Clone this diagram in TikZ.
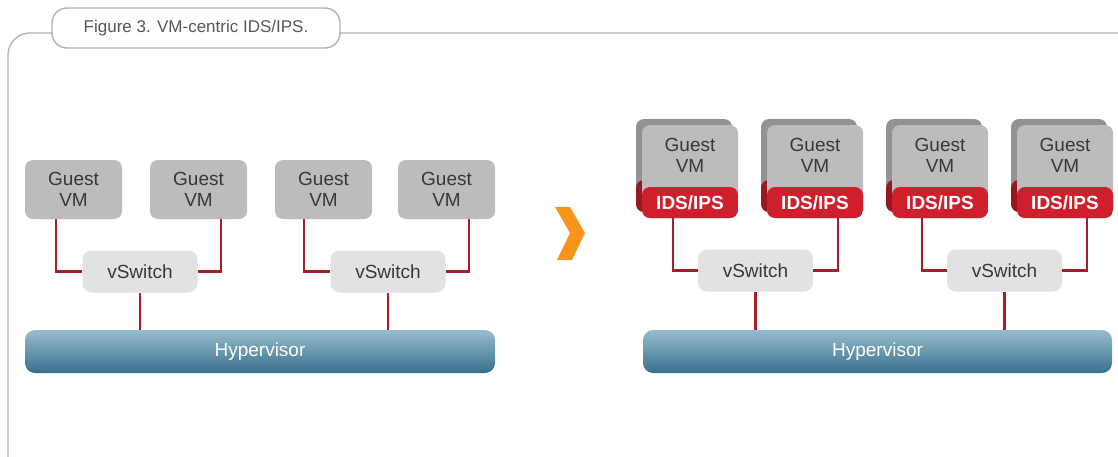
\documentclass[tikz,border=0pt]{standalone}
\usepackage{fontspec}
\setmainfont{Liberation Sans}
\usetikzlibrary{positioning}
\definecolor{framegrey}{RGB}{178,178,180}
\definecolor{titlegrey}{RGB}{88,88,90}
\definecolor{vmgrey}{RGB}{188,188,190}
\definecolor{shadegrey}{RGB}{146,146,149}
\definecolor{switchgrey}{RGB}{226,226,228}
\definecolor{wirered}{RGB}{163,32,40}
\definecolor{idsred}{RGB}{207,30,44}
\definecolor{idsdark}{RGB}{150,24,32}
\definecolor{hyptop}{RGB}{152,188,205}
\definecolor{hypbot}{RGB}{56,112,140}
\definecolor{chevron}{RGB}{247,148,29}

\begin{document}
\begin{tikzpicture}[x=1pt,y=-1pt,
  every node/.style={font=\fontsize{19}{21}\selectfont,text=black!78,inner sep=0pt},
  tab/.style={draw=framegrey,line width=1.4pt,fill=white,rounded corners=15pt,
              minimum width=288pt,minimum height=40pt,font=\fontsize{17}{19}\selectfont,text=titlegrey},
  guest/.style={fill=vmgrey,rounded corners=8pt,minimum width=97pt,minimum height=59pt,align=center},
  backvm/.style={fill=shadegrey,rounded corners=8pt,minimum width=96pt,minimum height=93pt,
              path picture={\fill[idsdark] (path picture bounding box.south west)
                rectangle ([yshift=32pt]path picture bounding box.south east);}},
  frontvm/.style={fill=vmgrey,rounded corners=8pt,minimum width=96pt,minimum height=93pt,
              path picture={\fill[idsred] (path picture bounding box.south west)
                rectangle ([yshift=31pt]path picture bounding box.south east);}},
  vmtext/.style={align=center},
  idstext/.style={text=white,font=\fontsize{19}{21}\selectfont\bfseries},
  switch/.style={fill=switchgrey,rounded corners=9pt,minimum width=115pt,minimum height=42pt},
  hyper/.style={top color=hyptop,bottom color=hypbot,rounded corners=10pt,
              minimum height=43pt,text=white},
  wire/.style={draw=wirered,line width=2.6pt}]

\useasboundingbox (0,0) rectangle (1118,456);

% outer frame, runs off the page on the right and below
\draw[framegrey,line width=1.4pt,rounded corners=22pt] (1130,33) -- (8,33) -- (8,470);
\node[tab] (title) at (196,28) {Figure 3. VM-centric IDS/IPS.};

% left: plain guests
\foreach \i/\x in {1/73.5,2/198.5,3/323.5,4/446.5}
  \node[guest] (g\i) at (\x,189.5) {Guest\\VM};
\node[switch] (s1) at (140,271.5) {vSwitch};
\node[switch] (s2) at (388,271.5) {vSwitch};
\node[hyper,minimum width=470pt] (h1) at (260,351.5) {Hypervisor};

\draw[wire] ([xshift=-17.5pt]g1.south) |- (s1.west);
\draw[wire] ([xshift=22.5pt]g2.south) |- (s1.east);
\draw[wire] ([xshift=-19.5pt]g3.south) |- (s2.west);
\draw[wire] ([xshift=22.5pt]g4.south) |- (s2.east);
\draw[wire] (s1.south) -- (s1 |- h1.north);
\draw[wire] (s2.south) -- (s2 |- h1.north);

\fill[chevron] (555,207) -- (570,207) -- (585,233) -- (572,260) -- (557,260) -- (570,233) -- cycle;

% right: every guest carries its own IDS/IPS
\foreach \i/\x in {1/690,2/815,3/940,4/1065} {
  \node[backvm] (b\i) at (\x-6,165.5) {};
  \node[frontvm] (v\i) at (\x,171.5) {};
  \node[vmtext] (n\i) at (\x,155.5) {Guest\\VM};
  \node[idstext] (d\i) at (\x,203) {IDS/IPS};
}
\node[switch] (s3) at (755.5,270.5) {vSwitch};
\node[switch] (s4) at (1004.5,270.5) {vSwitch};
\node[hyper,minimum width=469pt] (h2) at (877.5,351.5) {Hypervisor};

\draw[wire] ([xshift=-17pt]v1.south) |- (s3.west);
\draw[wire] ([xshift=23pt]v2.south) |- (s3.east);
\draw[wire] ([xshift=-18pt]v3.south) |- (s4.west);
\draw[wire] ([xshift=22pt]v4.south) |- (s4.east);
\draw[wire] (s3.south) -- (s3 |- h2.north);
\draw[wire] (s4.south) -- (s4 |- h2.north);
\end{tikzpicture}
\end{document}
